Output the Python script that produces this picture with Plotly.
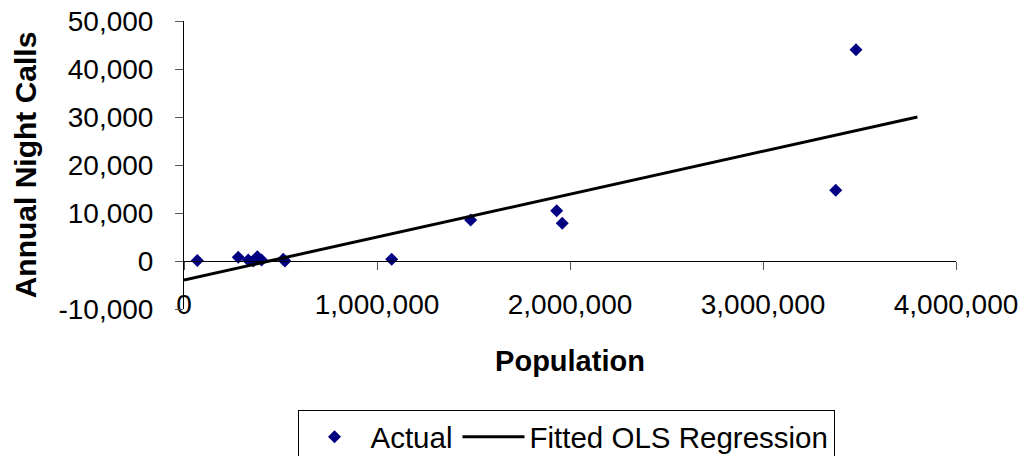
import plotly.graph_objects as go

population = [69000, 281000, 333000, 359000, 380000, 402000, 514000, 523000,
              1076000, 1485000, 1931000, 1960000, 3377000, 3482000]
night_calls = [100, 770, 200, 0, 900, 200, 350, 0,
               350, 8520, 10460, 7840, 14760, 44010]

fit_x = [0, 3800000]
fit_y = [-3950, 30000]

x_ticks = [0, 1000000, 2000000, 3000000, 4000000]
y_ticks = [-10000, 0, 10000, 20000, 30000, 40000, 50000]

FONT = "Liberation Sans, Arial, sans-serif"

fig = go.Figure()
fig.add_trace(go.Scatter(
    x=population, y=night_calls, mode="markers", name="Actual",
    marker=dict(symbol="diamond", size=10, color="#000080"),
    xaxis="x", yaxis="y"))
fig.add_trace(go.Scatter(
    x=fit_x, y=fit_y, mode="lines", name="Fitted OLS Regression",
    line=dict(color="black", width=3),
    xaxis="x2", yaxis="y"))

fig.update_layout(
    width=1028, height=456,
    margin=dict(l=184, r=72, t=21, b=147),
    paper_bgcolor="white", plot_bgcolor="white",
    font=dict(family=FONT, size=28, color="black"),
    showlegend=True,
    legend=dict(orientation="h", xref="container", yref="container",
                x=566 / 1028, xanchor="center", y=1 - 410 / 456, yanchor="top",
                bordercolor="black", borderwidth=1, bgcolor="white",
                font=dict(size=29.5), itemwidth=62, tracegroupgap=0),
    xaxis=dict(range=[0, 4000000], tickvals=x_ticks,
               ticktext=[f"{v:,}" for v in x_ticks],
               anchor="free", position=0.1007,
               showline=False, showgrid=False, zeroline=False,
               ticks="", ticklabelstandoff=5, automargin=False,
               title=dict(text="<b>Population</b>", standoff=31,
                          font=dict(size=29))),
    xaxis2=dict(range=[0, 4000000], matches="x", overlaying="x",
                anchor="free", position=1/6, side="bottom",
                tickvals=x_ticks, showticklabels=False,
                showline=True, linecolor="black", linewidth=1,
                ticks="outside", ticklen=8, tickcolor="#555555", tickwidth=1,
                showgrid=False, zeroline=False, automargin=False),
    yaxis=dict(range=[-10000, 50000], tickvals=y_ticks,
               ticktext=[f"{v:,}" for v in y_ticks],
               showline=True, linecolor="black", linewidth=1,
               ticks="outside", ticklen=8, tickcolor="#555555", tickwidth=1,
               showgrid=False, zeroline=False, ticklabelstandoff=16,
               automargin=False,
               title=dict(text="<b>Annual Night Calls</b>", standoff=12,
                          font=dict(size=30))),
)

fig.write_html("out.html",
               config={"displayModeBar": False},
               post_script="document.body.style.margin='0';"
                           "document.body.style.overflow='hidden';")
